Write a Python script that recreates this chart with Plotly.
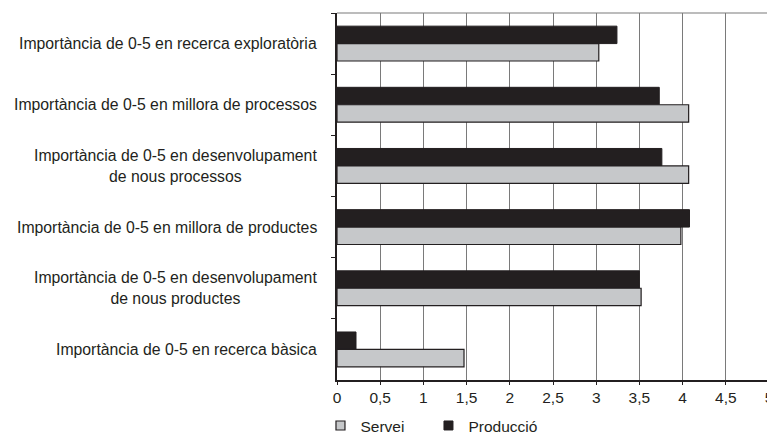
import plotly.graph_objects as go

# categories, top to bottom as in the source chart
categories = [
    "Importància de 0-5 en recerca exploratòria",
    "Importància de 0-5 en millora de processos",
    "Importància de 0-5 en desenvolupament<br>de nous processos",
    "Importància de 0-5 en millora de productes",
    "Importància de 0-5 en desenvolupament<br>de nous productes",
    "Importància de 0-5 en recerca bàsica",
]
produccio = [3.24, 3.73, 3.76, 4.08, 3.50, 0.22]
servei = [3.03, 4.07, 4.07, 3.98, 3.52, 1.47]

x_ticks = [0, 0.5, 1, 1.5, 2, 2.5, 3, 3.5, 4, 4.5, 5]
x_ticktext = ["0", "0,5", "1", "1,5", "2", "2,5", "3", "3,5", "4", "4,5", "5"]

DARK = "#231f20"
GREY = "#c6c8ca"
FONT = "Liberation Sans, Arial, Helvetica, sans-serif"

fig = go.Figure()

# black first -> sits on top inside each group (y axis reversed)
fig.add_trace(go.Bar(y=categories, x=produccio, orientation="h", name="Producció",
                     marker=dict(color=DARK, line=dict(color=DARK, width=1)),
                     showlegend=False))
fig.add_trace(go.Bar(y=categories, x=servei, orientation="h", name="Servei",
                     marker=dict(color=GREY, line=dict(color=DARK, width=1.2)),
                     showlegend=False))

# legend entries (small squares), one legend each so they can be spaced like the original
fig.add_trace(go.Scatter(x=[None], y=[None], mode="markers", name="Servei",
                         marker=dict(symbol="square", size=9, color=GREY,
                                     line=dict(color=DARK, width=1.2)),
                         legend="legend"))
fig.add_trace(go.Scatter(x=[None], y=[None], mode="markers", name="Producció",
                         marker=dict(symbol="square", size=9, color=DARK,
                                     line=dict(color=DARK, width=1)),
                         legend="legend2"))

# category labels: right aligned block, lines centred
for c in categories:
    fig.add_annotation(x=0, xref="paper", y=c, yref="y", text=c, showarrow=False,
                       xanchor="right", yanchor="middle", align="center", xshift=-18,
                       font=dict(family=FONT, size=15.8, color=DARK))

# page body adds an 8px margin, so the figure is 8px smaller and shifted back
leg_font = dict(family=FONT, size=15.5, color=DARK)
fig.update_layout(
    width=767, height=426,
    margin=dict(l=329, r=6, t=5, b=54, autoexpand=False),
    paper_bgcolor="white", plot_bgcolor="white",
    barmode="group", bargap=0.43, bargroupgap=0,
    font=dict(family=FONT, size=15.5, color=DARK),
    legend=dict(orientation="h", xref="container", yref="container",
                x=0.4074, y=0.019, xanchor="left", yanchor="middle",
                font=leg_font, itemwidth=30, bgcolor="rgba(0,0,0,0)"),
    legend2=dict(orientation="h", xref="container", yref="container",
                 x=0.5482, y=0.019, xanchor="left", yanchor="middle",
                 font=leg_font, itemwidth=30, bgcolor="rgba(0,0,0,0)"),
)

fig.update_xaxes(range=[0, 5], tickvals=x_ticks, ticktext=x_ticktext,
                 showgrid=True, gridcolor="#7a7a7a", gridwidth=1,
                 showline=True, linecolor=DARK, linewidth=1.5,
                 ticks="outside", ticklen=3, tickcolor=DARK,
                 zeroline=False, fixedrange=True, automargin=False,
                 tickfont=dict(family=FONT, size=15.5, color=DARK))
fig.update_yaxes(autorange="reversed", showticklabels=False, showgrid=False,
                 showline=True, linecolor=DARK, linewidth=1.5,
                 ticks="outside", tickson="boundaries", ticklen=4, tickcolor=DARK,
                 zeroline=False, fixedrange=True, automargin=False)

# frame: grey top edge, heavy black right edge
fig.add_shape(type="line", xref="paper", yref="paper", x0=0, x1=1, y0=1, y1=1,
              line=dict(color="#7a7a7a", width=1.2))
fig.add_shape(type="line", xref="paper", yref="paper", x0=1, x1=1, y0=0, y1=1,
              line=dict(color=DARK, width=2.5))

fig.write_html("out.html")
